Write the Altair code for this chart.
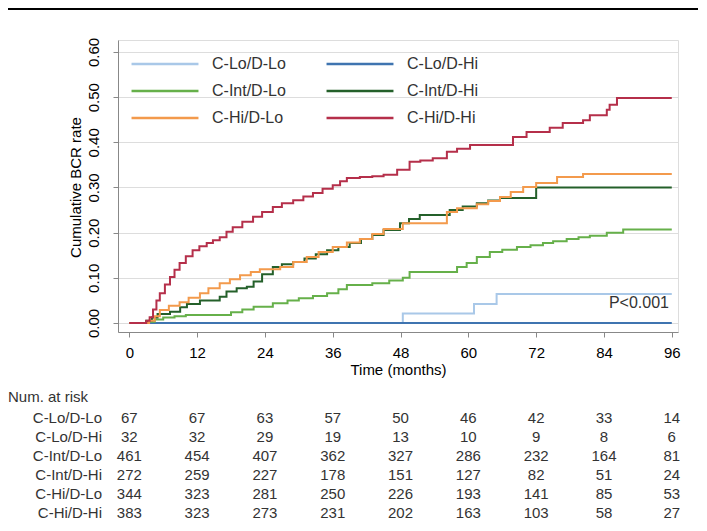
import altair as alt
import pandas as pd

FONT = "Liberation Sans"
TXT = "#333333"

series_names = ["C-Lo/D-Lo", "C-Lo/D-Hi", "C-Int/D-Lo", "C-Int/D-Hi", "C-Hi/D-Lo", "C-Hi/D-Hi"]
series_colors = ["#a9c8e8", "#3f74b0", "#66b04a", "#24602a", "#f39a4c", "#b52f4a"]

# cumulative BCR curves (time in months, cumulative rate)
lolo_t = [0, 48.4, 61.0, 65.0, 96]
lolo_v = [0, 0.021, 0.042, 0.064, 0.064]

lohi_t = [0, 96]
lohi_v = [0, 0]

intlo_t = [0, 3, 4.5, 6, 8, 10, 18, 20, 22, 25.4, 28, 30, 32.5, 35, 37, 38.5, 43, 46, 48.4, 49.6,
           58, 59.7, 61.5, 63.8, 66, 68.6, 71, 73.2, 75, 77.4, 79.5, 81.5, 84.5, 87.4, 96]
intlo_v = [0, 0.003, 0.008, 0.012, 0.015, 0.018, 0.024, 0.03, 0.036, 0.044, 0.05, 0.055, 0.06, 0.066,
           0.075, 0.084, 0.088, 0.094, 0.10, 0.113, 0.124, 0.133, 0.146, 0.157, 0.162, 0.168, 0.172,
           0.177, 0.181, 0.186, 0.19, 0.193, 0.2, 0.207, 0.207]

inthi_t = [0, 3, 4, 5, 7.2, 9, 10.2, 12.5, 16, 17.2, 19, 20.8, 22, 23.5, 25.4, 27, 29, 31, 33, 35, 37,
           39, 41, 43, 45, 47.9, 49.5, 51.4, 56.7, 59, 61.5, 63.5, 65.6, 72, 96]
inthi_v = [0, 0.005, 0.012, 0.02, 0.025, 0.035, 0.042, 0.05, 0.058, 0.07, 0.077, 0.08, 0.092, 0.108,
           0.124, 0.13, 0.135, 0.143, 0.152, 0.161, 0.168, 0.177, 0.186, 0.195, 0.206, 0.221, 0.23,
           0.239, 0.25, 0.258, 0.265, 0.271, 0.277, 0.30, 0.30]

hilo_t = [0, 3.5, 4.5, 5.4, 7, 8.9, 10.5, 12.5, 14, 16, 17.8, 19.6, 21.5, 23.1, 26.7, 29, 31.4, 33.5,
          36, 38.5, 40.8, 43, 45, 48.4, 56.2, 58, 61.5, 63.5, 65.6, 67.5, 69.7, 72, 75.7, 80.3, 96]
hilo_v = [0, 0.005, 0.015, 0.029, 0.038, 0.046, 0.056, 0.066, 0.077, 0.088, 0.097, 0.106, 0.113, 0.119,
          0.124, 0.135, 0.146, 0.157, 0.168, 0.178, 0.186, 0.197, 0.208, 0.221, 0.246, 0.254, 0.263,
          0.27, 0.279, 0.29, 0.301, 0.31, 0.323, 0.33, 0.33]

hihi_t = [0, 2, 3, 3.6, 4.2, 4.8, 5.4, 6.3, 7.2, 8, 8.9, 10, 11.2, 12.4, 13.7, 14.8, 16, 17.2, 18.3, 20,
          21.9, 23.5, 25.4, 27, 29, 30.8, 32.5, 34.2, 36, 37.3, 38.5, 40.8, 43, 45, 47.4, 49.6, 51.5,
          53.7, 56.2, 58, 60.3, 67.9, 70.3, 74.4, 76.7, 80.3, 81.5, 84.5, 85, 86.3, 96]
hihi_v = [0, 0, 0.005, 0.013, 0.03, 0.05, 0.066, 0.085, 0.102, 0.118, 0.133, 0.148, 0.161, 0.17, 0.177,
          0.183, 0.19, 0.202, 0.212, 0.224, 0.235, 0.246, 0.257, 0.265, 0.272, 0.28, 0.288, 0.297,
          0.305, 0.314, 0.321, 0.323, 0.325, 0.328, 0.339, 0.357, 0.36, 0.365, 0.379, 0.386, 0.394,
          0.412, 0.423, 0.432, 0.443, 0.449, 0.46, 0.472, 0.483, 0.498, 0.498]

# numbers at risk
risk_times = [0, 12, 24, 36, 48, 60, 72, 84, 96]
risk_lolo = [67, 67, 63, 57, 50, 46, 42, 33, 14]
risk_lohi = [32, 32, 29, 19, 13, 10, 9, 8, 6]
risk_intlo = [461, 454, 407, 362, 327, 286, 232, 164, 81]
risk_inthi = [272, 259, 227, 178, 151, 127, 82, 51, 24]
risk_hilo = [344, 323, 281, 250, 226, 193, 141, 85, 53]
risk_hihi = [383, 323, 273, 231, 202, 163, 103, 58, 27]

x_ticks = [0, 12, 24, 36, 48, 60, 72, 84, 96]
y_ticks = [0.0, 0.1, 0.2, 0.3, 0.4, 0.5, 0.6]

# ---- tables ----
curve_rows = []
for name, ts, vs in zip(series_names,
                        [lolo_t, lohi_t, intlo_t, inthi_t, hilo_t, hihi_t],
                        [lolo_v, lohi_v, intlo_v, inthi_v, hilo_v, hihi_v]):
    for t, v in zip(ts, vs):
        curve_rows.append({"series": name, "t": t, "v": v})
curves = pd.DataFrame(curve_rows)

risk_rows = []
label_rows = []
for i, (name, counts) in enumerate(zip(series_names,
                                       [risk_lolo, risk_lohi, risk_intlo, risk_inthi, risk_hilo, risk_hihi])):
    label_rows.append({"series": name, "row": i})
    for t, n in zip(risk_times, counts):
        risk_rows.append({"series": name, "row": i, "t": t, "n": str(n)})
risk_df = pd.DataFrame(risk_rows)
label_df = pd.DataFrame(label_rows)

W, H = 560, 292
xscale = alt.Scale(domain=[-2.0, 97.1], nice=False, zero=False)
yscale = alt.Scale(domain=[-0.0199, 0.6265], nice=False, zero=False)
row_scale = alt.Scale(domain=[0, 5], range=[378, 473])

x_axis = alt.Axis(values=x_ticks, title="Time (months)", format="d", grid=False,
                  tickSize=5, labelPadding=8, titlePadding=2, labelFontSize=15, titleFontSize=15,
                  titleFontWeight="normal")

lines = alt.Chart(curves).mark_line(interpolate="step-after", strokeWidth=2).encode(
    x=alt.X("t:Q", scale=xscale, axis=x_axis),
    y=alt.Y("v:Q", scale=yscale,
            axis=alt.Axis(values=y_ticks, format=".2f", title="Cumulative BCR rate", grid=True,
                          labelAngle=270, labelAlign="center", labelBaseline="bottom",
                          tickSize=5, labelPadding=12, labelFontSize=15, titleFontSize=15,
                          titleFontWeight="normal",
                          titleAngle=270, titleX=-43, titleY=147, titleAlign="center",
                          titleBaseline="middle")),
    color=alt.Color("series:N", scale=alt.Scale(domain=series_names, range=series_colors),
                    legend=alt.Legend(title=None, orient="none", legendX=37, legendY=14, columns=2,
                                      direction="horizontal",
                                      symbolType="M-4,0H4", symbolSize=280, symbolStrokeWidth=2.5,
                                      labelFontSize=16, labelColor=TXT, labelFont=FONT,
                                      columnPadding=35, rowPadding=9, labelOffset=37, padding=0)),
)

ptext = alt.Chart(pd.DataFrame({"t": [95.5], "v": [0.044], "txt": ["P<0.001"]})).mark_text(
    align="right", baseline="middle", fontSize=16, font=FONT, color=TXT).encode(
    x=alt.X("t:Q", scale=xscale, axis=x_axis),
    y=alt.Y("v:Q", scale=yscale, axis=None),
    text="txt:N")

numbers = alt.Chart(risk_df).mark_text(align="center", baseline="middle", fontSize=15,
                                       font=FONT, color=TXT).encode(
    x=alt.X("t:Q", scale=xscale, axis=x_axis),
    y=alt.Y("row:Q", scale=row_scale, axis=None),
    text="n:N")

row_labels = alt.Chart(label_df).mark_text(align="right", baseline="middle", fontSize=15,
                                           font=FONT, color=TXT).encode(
    x=alt.value(-16),
    y=alt.Y("row:Q", scale=row_scale, axis=None),
    text="series:N")

risk_title = alt.Chart(pd.DataFrame({"txt": ["Num. at risk"]})).mark_text(
    align="left", baseline="middle", fontSize=15, font=FONT, color=TXT).encode(
    x=alt.value(-110), y=alt.value(357), text="txt:N")

top_rule = alt.Chart(pd.DataFrame({"a": [0]})).mark_rule(color="black", strokeWidth=2).encode(
    x=alt.value(-110), x2=alt.value(590), y=alt.value(-31))

chart = alt.layer(lines, ptext, numbers, row_labels, risk_title, top_rule).resolve_scale(
    y="independent").resolve_axis(y="independent").properties(
    width=W, height=H,
    padding={"left": 110, "top": 32, "right": 20, "bottom": 190},
    autosize=alt.AutoSizeParams(type="none"),
).configure_view(stroke="#9a9a9a", strokeWidth=1).configure_axis(
    domainColor="#444444", tickColor="#444444", labelColor=TXT, titleColor=TXT,
    labelFont=FONT, titleFont=FONT, titleFontWeight="normal", gridColor="#e4e4e4"
).configure(background="white")

chart.save("out.html", embed_options={"renderer": "svg", "actions": False})
